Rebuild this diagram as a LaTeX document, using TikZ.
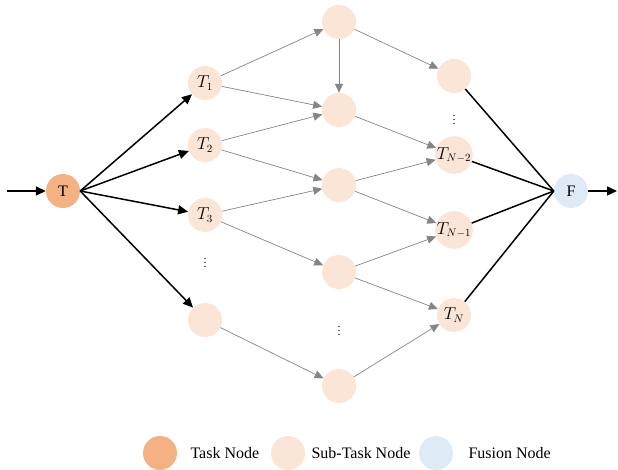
\documentclass[tikz,border=0pt]{standalone}
\usepackage{fontspec}
\setmainfont{Liberation Serif}
\usetikzlibrary{arrows.meta}
\definecolor{taskc}{HTML}{F4B183}
\definecolor{subc}{HTML}{FBE5D6}
\definecolor{fusec}{HTML}{DEEBF7}
\definecolor{edgec}{HTML}{858585}
\tikzset{
  task/.style={circle, fill=taskc, minimum size=34pt, inner sep=0pt},
  sub/.style={circle, fill=subc, minimum size=34pt, inner sep=0pt},
  fuse/.style={circle, fill=fusec, minimum size=34pt, inner sep=0pt},
  dots/.style={inner sep=0pt, font=\fontsize{12}{12}\selectfont},
  mainarr/.style={line width=1.5pt, -{Triangle[length=10pt,width=9pt]}},
  mainline/.style={line width=1.5pt},
  flow/.style={draw=edgec, line width=0.7pt, -{Triangle[length=9pt,width=8pt]}, color=edgec},
}
\begin{document}
\begin{tikzpicture}[x=1pt, y=-1pt, font=\fontsize{16}{18}\selectfont]
    \useasboundingbox (0,0) rectangle (618,470);
    % task and fusion
    \node[task] (T) at (63,191) {T};
    \node[fuse] (F) at (571,191) {F};
    \coordinate (in) at (7,191);
    \coordinate (out) at (617,191);
    % first column
    \node[sub] (T1) at (205,83) {$T_1$};
    \node[sub] (T2) at (205,145) {$T_2$};
    \node[sub] (T3) at (205,215) {$T_3$};
    \node[dots] (v1) at (205,260) {$\vdots$};
    \node[sub] (b1) at (205,320) {};
    % second column
    \node[sub] (c1) at (339,22) {};
    \node[sub] (c2) at (339,110) {};
    \node[sub] (c3) at (339,185) {};
    \node[sub] (c4) at (339,272) {};
    \node[dots] (v2) at (339,328) {$\vdots$};
    \node[sub] (c5) at (339,386) {};
    % third column
    \node[sub] (d1) at (454,76) {};
    \node[dots] (v3) at (454,117) {$\vdots$};
    \node[sub] (TN2) at (454,155) {$T_{N-2}$};
    \node[sub] (TN1) at (454,230) {$T_{N-1}$};
    \node[sub] (TN) at (454,315) {$T_N$};
    % legend
    \node[task] (lt) at (160,453) {};
    \node[anchor=west] (ltt) at (187,453) {Task Node};
    \node[sub] (ls) at (288,453) {};
    \node[anchor=west] (lst) at (308,453) {Sub-Task Node};
    \node[fuse] (lf) at (436,453) {};
    \node[anchor=west] (lft) at (465,453) {Fusion Node};
    % edges
    \draw[mainarr] (in) -- (T);
    \draw[mainarr] (T.east) -- (T1);
    \draw[mainarr] (T.east) -- (T2);
    \draw[mainarr] (T.east) -- (T3);
    \draw[mainarr] (T.east) -- (b1);
    \draw[flow] (T1) -- (c1);
    \draw[flow] (T1) -- (c2);
    \draw[flow] (T2) -- (c2);
    \draw[flow] (T2) -- (c3);
    \draw[flow] (T3) -- (c3);
    \draw[flow] (T3) -- (c4);
    \draw[flow] (b1) -- (c5);
    \draw[flow] (c1) -- (c2);
    \draw[flow] (c1) -- (d1);
    \draw[flow] (c2) -- (TN2);
    \draw[flow] (c3) -- (TN2);
    \draw[flow] (c3) -- (TN1);
    \draw[flow] (c4) -- (TN1);
    \draw[flow] (c4) -- (TN);
    \draw[flow] (c5) -- (TN);
    \draw[mainline] (d1) -- (F.west);
    \draw[mainline] (TN2) -- (F.west);
    \draw[mainline] (TN1) -- (F.west);
    \draw[mainline] (TN) -- (F.west);
    \draw[mainarr] (F) -- (out);
\end{tikzpicture}
\end{document}
